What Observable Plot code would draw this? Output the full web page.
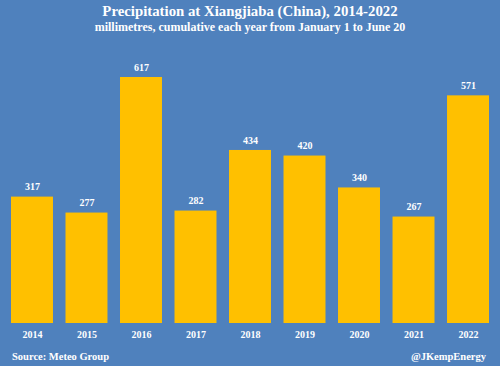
<!DOCTYPE html>
<html>
<head>
<meta charset="utf-8">
<script src="https://cdn.jsdelivr.net/npm/d3@7"></script>
<script src="https://cdn.jsdelivr.net/npm/@observablehq/plot@0.6"></script>
<style>
  html, body { margin: 0; padding: 0; background: #4F81BD; }
  #wrap { position: relative; width: 500px; height: 366px; background: #4F81BD; overflow: hidden;
          font-family: "Liberation Serif", "Times New Roman", serif; color: #fff; font-weight: bold; }
  #wrap svg { position: absolute; left: 0; top: 0; }
  .t { position: absolute; white-space: nowrap; line-height: 1; }
  #title { left: 0; width: 500px; text-align: center; top: 4px; font-size: 14.8px; }
  #sub { left: 0; width: 500px; text-align: center; top: 21px; font-size: 12px; }
  #src { left: 12px; top: 352px; font-size: 10.5px; }
  #cred { right: 14px; top: 352px; font-size: 10.5px; }
</style>
</head>
<body>
<div id="wrap">
  <div class="t" id="title">Precipitation at Xiangjiaba (China), 2014-2022</div>
  <div class="t" id="sub">millimetres, cumulative each year from January 1 to June 20</div>
  <div class="t" id="src">Source: Meteo Group</div>
  <div class="t" id="cred">@JKempEnergy</div>
</div>
<script>
const years = ["2014","2015","2016","2017","2018","2019","2020","2021","2022"];
const values = [317, 277, 617, 282, 434, 420, 340, 267, 571];
const data = years.map((y, i) => ({year: y, value: values[i]}));

const chart = Plot.plot({
  width: 500,
  height: 366,
  marginLeft: 11,
  marginRight: 11,
  marginTop: 0,
  marginBottom: 43,
  style: {background: "transparent", fontFamily: "'Liberation Serif', serif", color: "#fff"},
  x: {domain: years, paddingInner: 0.23, paddingOuter: 0, round: false, label: null, axis: null},
  y: {domain: [0, 617 * 323 / 246], axis: null},
  marks: [
    Plot.barY(data, {x: "year", y: "value", fill: "#FFC000"}),
    Plot.text(data, {x: "year", y: "value", text: d => String(d.value), dy: -10,
      fill: "#fff", fontWeight: "bold", fontSize: 10}),
    Plot.axisX({tickSize: 0, tickPadding: 7, fontSize: 10, fontWeight: "bold", fill: "#fff", label: null})
  ]
});
document.getElementById("wrap").prepend(chart);
</script>
</body>
</html>
